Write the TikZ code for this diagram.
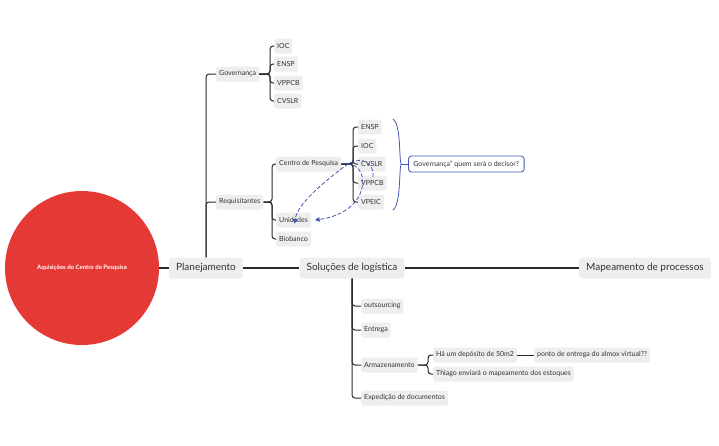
\documentclass[tikz,border=0pt]{standalone}
\usepackage{fontspec}
\setmainfont{Lato}
\usetikzlibrary{arrows.meta}
\definecolor{nodebg}{HTML}{EEEEEE}
\definecolor{txt}{HTML}{333333}
\definecolor{linec}{HTML}{2A2A2A}
\definecolor{rootred}{HTML}{E53935}
\definecolor{bluec}{HTML}{4355B5}
\begin{document}
\begin{tikzpicture}[x=1pt,y=-1pt,
  leaf/.style={fill=nodebg, rounded corners=2pt, inner xsep=3pt, inner ysep=0pt, minimum height=15pt, text=txt, font=\fontsize{7}{8}\selectfont, anchor=west},
  topic/.style={fill=nodebg, rounded corners=3pt, inner xsep=7pt, inner ysep=0pt, minimum height=21pt, text=txt, font=\fontsize{10}{12}\selectfont},
  br/.style={draw=linec, line width=1pt, rounded corners=3pt},
  trunk/.style={draw=linec, line width=1.4pt},
  rel/.style={draw=bluec, line width=0.8pt, dash pattern=on 4pt off 2pt, -{Triangle[length=4.5pt,width=4.5pt]}}
]
\useasboundingbox (0,0) rectangle (719,445);
% root
\node[circle, fill=rootred, minimum size=154pt, inner sep=0pt, text=white, font=\fontsize{6}{7}\selectfont\bfseries] (root) at (82,268) {Aquisições do Centro de Pesquisa};
% main topics
\node[topic] (plan) at (206,268) {Planejamento};
\node[topic] (sol) at (352,268) {Soluções de logística};
\node[topic] (map) at (645,268) {Mapeamento de processos};
\draw[trunk] (root) -- (plan);
\draw[trunk] (plan) -- (sol);
\draw[trunk] (sol) -- (map);
% Planejamento subtopics
\node[leaf] (gov) at (216,74) {Governança};
\node[leaf] (req) at (216,202) {Requisitantes};
\draw[br] (plan.north) |- (gov.west);
\draw[br] (plan.north) |- (req.west);
% Governanca children
\node[leaf] (g1) at (274,46) {IOC};
\node[leaf] (g2) at (274,64) {ENSP};
\node[leaf] (g3) at (274,83) {VPPCB};
\node[leaf] (g4) at (274,101) {CVSLR};
\foreach \c in {g1,g2,g3,g4}{
  \draw[br] (gov.east) -- ([xshift=-4pt]g1.west |- gov.east) |- (\c.west);
}
% Requisitantes children
\node[leaf] (cp) at (276,164) {Centro de Pesquisa};
\node[leaf] (unid) at (276,220) {Unidades};
\node[leaf] (bio) at (276,239) {Biobanco};
\foreach \c in {cp,unid,bio}{
  \draw[br] (req.east) -- ([xshift=-4pt]cp.west |- req.east) |- (\c.west);
}
% Centro de Pesquisa children
\node[leaf] (c1) at (358,127) {ENSP};
\node[leaf] (c2) at (358,146) {IOC};
\node[leaf] (c3) at (358,164) {CVSLR};
\node[leaf] (c4) at (358,183) {VPPCB};
\node[leaf] (c5) at (358,202) {VPEIC};
\foreach \c in {c1,c2,c3,c4,c5}{
  \draw[br] (cp.east) -- ([xshift=-5pt]c1.west |- cp.east) |- (\c.west);
}
% bracket and callout
\node[draw=bluec, line width=0.8pt, fill=white, rounded corners=3pt, inner xsep=5pt, inner ysep=0pt, minimum height=16pt, text=txt, font=\fontsize{7}{8}\selectfont, anchor=west] (call) at (408,164) {Governança" quem será o decisor?};
\coordinate (bt) at (393,119);
\coordinate (bb) at (393,210);
\coordinate (bp) at (401,164);
\draw[draw=bluec, line width=0.8pt] (bt) .. controls (401,124) and (399,158) .. (bp) .. controls (399,170) and (401,204) .. (bb);
\draw[draw=bluec, line width=0.8pt] (bp) -- (call.west);
% relationship curves
\coordinate (r1s) at (373,177);
\draw[rel] (r1s) .. controls (374,158) and (356,157) .. (345,166) .. controls (320,185) and (297,205) .. ([xshift=1pt,yshift=4pt]unid.south);
\draw[rel] (cp.east) .. controls (372,158) and (374,212) .. ([xshift=4pt]unid.east);
% Solucoes children
\node[leaf] (s1) at (361,306) {outsourcing};
\node[leaf] (s2) at (361,330) {Entrega};
\node[leaf] (s3) at (361,365) {Armazenamento};
\node[leaf] (s4) at (361,398) {Expedição de documentos};
\foreach \c in {s1,s2,s3,s4}{
  \draw[br] (sol.south) |- (\c.west);
}
% Armazenamento children
\node[leaf] (a1) at (433,355) {Há um depósito de 50m2};
\node[leaf] (a2) at (433,374) {Thiago enviará o mapeamento dos estoques};
\foreach \c in {a1,a2}{
  \draw[br] (s3.east) -- ([xshift=-5pt]a1.west |- s3.east) |- (\c.west);
}
\node[leaf] (a3) at (534,355) {ponto de entrega do almox virtual??};
\draw[br] (a1.east) -- (a3.west);
\end{tikzpicture}
\end{document}
